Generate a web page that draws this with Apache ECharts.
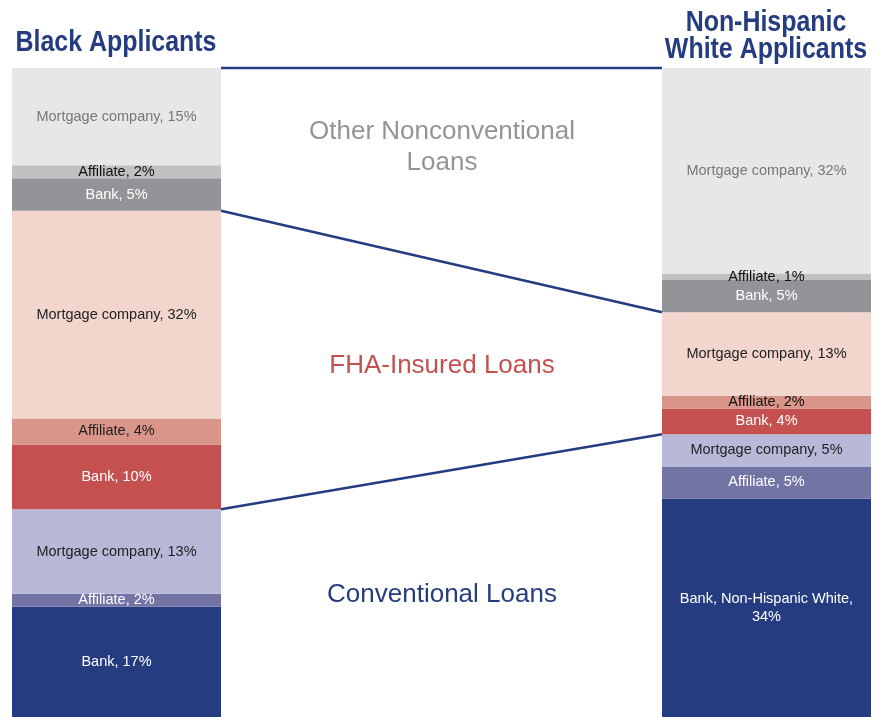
<!DOCTYPE html>
<html>
<head>
<meta charset="utf-8">
<script src="https://cdn.jsdelivr.net/npm/echarts@6/dist/echarts.min.js"></script>
<style>
html, body { margin: 0; padding: 0; background: #fff; }
#chart { width: 881px; height: 717px; }
</style>
</head>
<body>
<div id="chart"></div>
<script>
// segments listed bottom to top
const segmentNames = ['Bank', 'Affiliate', 'Mortgage company', 'Bank', 'Affiliate', 'Mortgage company', 'Bank', 'Affiliate', 'Mortgage company'];
const blackShares = [17, 2, 13, 10, 4, 32, 5, 2, 15];
const whiteShares = [34, 5, 5, 4, 2, 13, 5, 1, 32];
const whiteBottomName = 'Bank, Non-Hispanic White,\n';
const loanGroups = ['Conventional Loans', 'FHA-Insured Loans', 'Other Nonconventional\nLoans'];
const barTitles = ['Black Applicants', 'Non-Hispanic\nWhite Applicants'];

const segColors = ['#253c80', '#7274a6', '#b8b9d8', '#c4504f', '#d9958a', '#f2d6ce', '#939497', '#c0c1c3', '#e6e7e9'];
const blackLabelColors = ['#fff', '#fff', '#222', '#fff', '#222', '#222', '#fff', '#111', '#777'];
const whiteLabelColors = ['#fff', '#fff', '#222', '#fff', '#111', '#222', '#fff', '#111', '#777'];
const groupColors = ['#253c80', '#c4504f', '#939497'];
const blue = '#253c80';
const labelFont = '"Liberation Sans", Arial, Helvetica, sans-serif';

const sum = arr => arr.reduce((a, b) => a + b, 0);
const blackTotal = sum(blackShares);
const whiteTotal = sum(whiteShares);

function barSeries(shares, gridIdx, labelColors, firstName) {
    return shares.map((v, i) => ({
        type: 'bar',
        xAxisIndex: gridIdx,
        yAxisIndex: gridIdx,
        stack: 'g' + gridIdx,
        barWidth: '100%',
        data: [v],
        itemStyle: { color: segColors[i] },
        label: {
            show: true,
            position: 'inside',
            color: labelColors[i],
            fontFamily: labelFont,
            fontSize: 14.5,
            lineHeight: 18,
            formatter: (i === 0 && firstName) ? firstName + v + '%' : segmentNames[i] + ', ' + v + '%'
        }
    }));
}

// connecting lines at group boundaries, normalized to each bar's total
const boundaries = [3, 6, 9];
const connectSeries = boundaries.map(n => ({
    type: 'line',
    xAxisIndex: 2,
    yAxisIndex: 2,
    clip: false,
    symbol: 'none',
    silent: true,
    lineStyle: { color: blue, width: 2.5 },
    data: [
        [0, sum(blackShares.slice(0, n)) / blackTotal * 100],
        [1, sum(whiteShares.slice(0, n)) / whiteTotal * 100]
    ]
}));

const groupY = [595, 366, 147];

// condensed bold heading: regular bold face squeezed horizontally
function heading(text, x, y) {
    return {
        type: 'text', x: x, y: y, scaleX: 0.86,
        style: { text: text, fill: blue, font: 'bold 29px ' + labelFont, lineHeight: 27, textAlign: 'center', textVerticalAlign: 'middle' }
    };
}

const option = {
    animation: false,
    grid: [
        { left: 12, width: 209, top: 68, bottom: 0 },
        { left: 662, width: 209, top: 68, bottom: 0 },
        { left: 221, right: 219, top: 68, bottom: 0 }
    ],
    xAxis: [
        { type: 'category', gridIndex: 0, data: ['Black'], show: false },
        { type: 'category', gridIndex: 1, data: ['White'], show: false },
        { type: 'value', gridIndex: 2, min: 0, max: 1, show: false }
    ],
    yAxis: [
        { type: 'value', gridIndex: 0, min: 0, max: blackTotal, show: false },
        { type: 'value', gridIndex: 1, min: 0, max: whiteTotal, show: false },
        { type: 'value', gridIndex: 2, min: 0, max: 100, show: false }
    ],
    graphic: [
        heading(barTitles[0], 116, 43),
        heading(barTitles[1], 766, 36)
    ].concat(loanGroups.map((g, i) => ({
        type: 'text', x: 442, y: groupY[i],
        style: { text: g, fill: groupColors[i], font: '26px ' + labelFont, lineHeight: 31, textAlign: 'center', textVerticalAlign: 'middle' }
    }))),
    series: barSeries(blackShares, 0, blackLabelColors, null)
        .concat(barSeries(whiteShares, 1, whiteLabelColors, whiteBottomName))
        .concat(connectSeries)
};

const chart = echarts.init(document.getElementById('chart'));
chart.setOption(option);
</script>
</body>
</html>
